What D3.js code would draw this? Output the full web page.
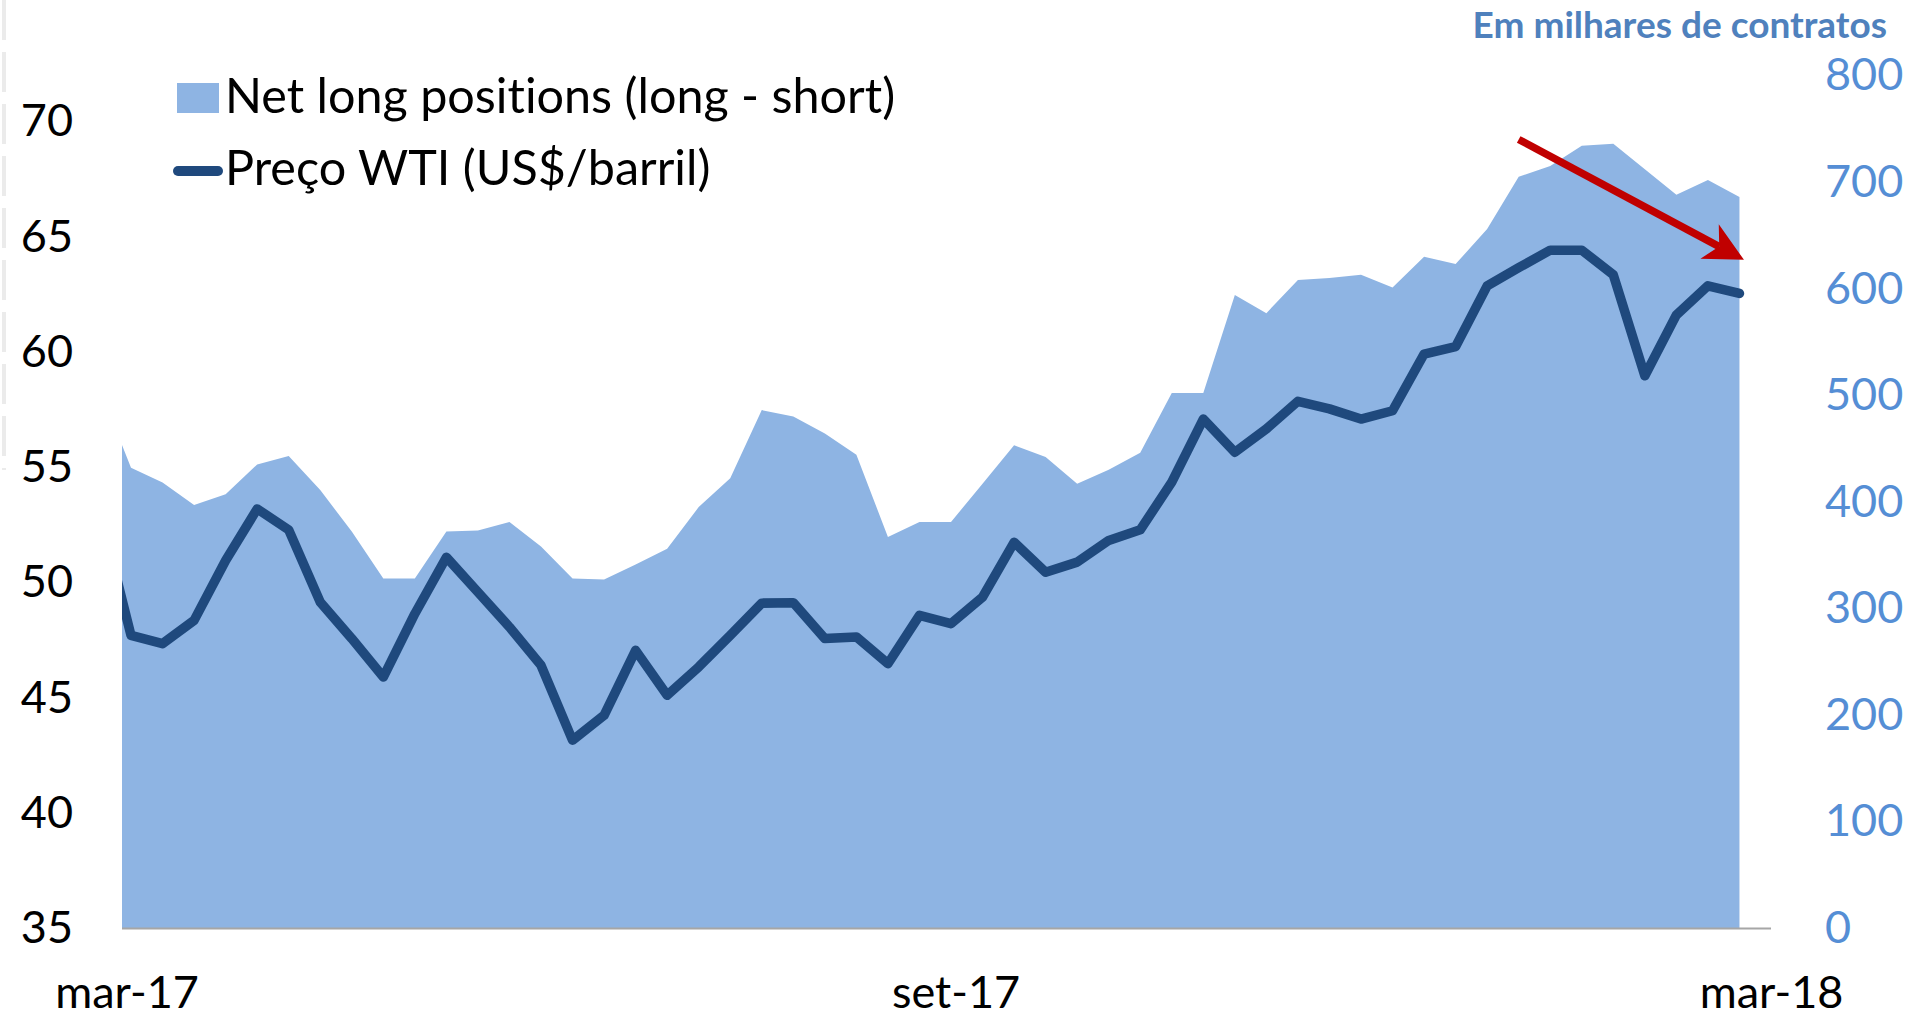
<!DOCTYPE html>
<html>
<head>
<meta charset="utf-8">
<script src="https://cdn.jsdelivr.net/npm/d3@7"></script>
<style>
	body { margin: 0; background: #fff; }
	svg { display: block; font-family: Lato, 'Open Sans', sans-serif; font-variant-ligatures: none; }
</style>
</head>
<body>
<div class="graphic"></div>
<script>
// weekly data, first week is only partly visible (cut by the axis min)
var firstWeek = '2017-03-07'
var netLong = [506,
	432, 418, 397, 407, 435, 443, 411, 372, 328, 328,
	372, 373, 381, 358, 328, 327, 341, 356, 395, 422,
	486, 480, 464, 444, 367, 381, 381, 417, 453, 442,
	417, 430, 446, 502, 502, 594, 577, 608, 610, 613,
	601, 630, 623, 656, 705, 715, 734, 736, 712, 688,
	702, 686]
var wtiPrice = [53.14,
	47.70, 47.34, 48.35, 50.95, 53.19, 52.28, 49.14, 47.56, 45.89, 48.64,
	51.09, 49.58, 48.06, 46.40, 43.15, 44.23, 47.05, 45.10, 46.33, 47.70,
	49.10, 49.12, 47.56, 47.63, 46.47, 48.57, 48.21, 49.36, 51.74, 50.44,
	50.88, 51.82, 52.28, 54.35, 57.09, 55.65, 56.66, 57.86, 57.53, 57.09,
	57.45, 59.91, 60.23, 62.87, 63.66, 64.42, 64.42, 63.35, 58.97, 61.61,
	62.87, 62.54]

var leftTicks = [35, 40, 45, 50, 55, 60, 65, 70]
var rightTicks = [0, 100, 200, 300, 400, 500, 600, 700, 800]
var xTickDates = ['2017-03-13', '2017-09-13', '2018-03-13']
var xTickLabels = ['mar-17', 'set-17', 'mar-18']
var xDomain = ['2017-03-12', '2018-03-13']
var leftDomain = [35, 72]
var rightDomain = [0, 800]
var arrowFrom = { date: '2018-01-16', value: 740 }
var arrowTo = { date: '2018-03-07', value: 627 }

var width = 1909
var height = 1018
var plot = { left: 122, right: 1771, top: 75.5, bottom: 928 }

var areaColor = '#8EB4E3'
var lineColor = '#1F497D'
var rightColor = '#558ED5'

var parseDate = d3.timeParse('%Y-%m-%d')
var start = parseDate(firstWeek)

var data = netLong.map(function(v, i) {
	return { date: d3.timeDay.offset(start, 7 * i), net: v, wti: wtiPrice[i] }
})

var svg = d3.select('.graphic').append('svg')
	.attr('width', width)
	.attr('height', height)

var x = d3.scaleTime()
	.domain(xDomain.map(parseDate))
	.range([plot.left, plot.right])
var yLeft = d3.scaleLinear().domain(leftDomain).range([plot.bottom, plot.top])
var yRight = d3.scaleLinear().domain(rightDomain).range([plot.bottom, plot.top])

// faint dashed border left over from the source sheet
svg.append('line')
	.attr('x1', 4).attr('x2', 4)
	.attr('y1', 0).attr('y2', 470)
	.attr('stroke', '#ebebeb')
	.attr('stroke-width', 4)
	.attr('stroke-dasharray', '40 12')

svg.append('clipPath').attr('id', 'plotClip')
	.append('rect')
	.attr('x', plot.left)
	.attr('y', 0)
	.attr('width', plot.right - plot.left)
	.attr('height', plot.bottom)

var chart = svg.append('g').attr('clip-path', 'url(#plotClip)')

var area = d3.area()
	.x(function(d) { return x(d.date) })
	.y0(yRight(0))
	.y1(function(d) { return yRight(d.net) })

chart.append('path')
	.datum(data)
	.attr('d', area)
	.attr('fill', areaColor)

var line = d3.line()
	.x(function(d) { return x(d.date) })
	.y(function(d) { return yLeft(d.wti) })

chart.append('path')
	.datum(data)
	.attr('d', line)
	.attr('fill', 'none')
	.attr('stroke', lineColor)
	.attr('stroke-width', 9.5)
	.attr('stroke-linejoin', 'round')
	.attr('stroke-linecap', 'round')

// horizontal axis line
svg.append('line')
	.attr('x1', plot.left).attr('x2', plot.right)
	.attr('y1', plot.bottom + 0.5).attr('y2', plot.bottom + 0.5)
	.attr('stroke', '#a6a6a6')
	.attr('stroke-width', 2)

// axes (d3 puts font-family="sans-serif" on the group, drop it so Lato is used)
var leftAxis = d3.axisLeft(yLeft).tickValues(leftTicks).tickSize(0).tickPadding(49)
var gl = svg.append('g')
	.attr('transform', 'translate(' + plot.left + ',0)')
	.call(leftAxis)
	.attr('font-family', null)
	.attr('font-size', null)
gl.select('.domain').remove()
gl.selectAll('text')
	.attr('fill', '#000')
	.style('font-size', '45px')

var rightAxis = d3.axisRight(yRight).tickValues(rightTicks).tickSize(0).tickPadding(54)
var gr = svg.append('g')
	.attr('transform', 'translate(' + plot.right + ',0)')
	.call(rightAxis)
	.attr('font-family', null)
	.attr('font-size', null)
gr.select('.domain').remove()
gr.selectAll('text')
	.attr('fill', rightColor)
	.style('font-size', '45px')

var bottomAxis = d3.axisBottom(x)
	.tickValues(xTickDates.map(parseDate))
	.tickFormat(function(d, i) { return xTickLabels[i] })
	.tickSize(0)
var gb = svg.append('g')
	.attr('transform', 'translate(0,' + plot.bottom + ')')
	.call(bottomAxis)
	.attr('font-family', null)
	.attr('font-size', null)
gb.select('.domain').remove()
gb.selectAll('text')
	.attr('y', 80)
	.attr('dy', 0)
	.attr('fill', '#000')
	.style('font-size', '45px')

// unit title on the right axis
svg.append('text')
	.attr('x', 1887)
	.attr('y', 38)
	.attr('text-anchor', 'end')
	.attr('fill', '#4F81BD')
	.style('font-size', '37px')
	.style('font-weight', 'bold')
	.text('Em milhares de contratos')

// legend
var legend = svg.append('g')
legend.append('rect')
	.attr('x', 177).attr('y', 83)
	.attr('width', 42).attr('height', 30)
	.attr('fill', areaColor)
legend.append('text')
	.attr('x', 225).attr('y', 113)
	.style('font-size', '48.5px')
	.text('Net long positions (long - short)')
legend.append('line')
	.attr('x1', 178).attr('x2', 218)
	.attr('y1', 171).attr('y2', 171)
	.attr('stroke', lineColor)
	.attr('stroke-width', 10)
	.attr('stroke-linecap', 'round')
legend.append('text')
	.attr('x', 225).attr('y', 185)
	.style('font-size', '48.5px')
	.text('Preço WTI (US$/barril)')

// red arrow annotation, placed in data units
var p0 = [x(parseDate(arrowFrom.date)), yRight(arrowFrom.value)]
var p1 = [x(parseDate(arrowTo.date)), yRight(arrowTo.value)]
var dx = p1[0] - p0[0], dy = p1[1] - p0[1]
var len = Math.sqrt(dx * dx + dy * dy)
var ux = dx / len, uy = dy / len
var headLen = 39, headHalf = 19.5
var base = [p1[0] - headLen * ux, p1[1] - headLen * uy]
var notch = [p1[0] - headLen * 0.72 * ux, p1[1] - headLen * 0.72 * uy]

svg.append('line')
	.attr('x1', p0[0]).attr('y1', p0[1])
	.attr('x2', notch[0]).attr('y2', notch[1])
	.attr('stroke', '#C00000')
	.attr('stroke-width', 7.5)

svg.append('path')
	.attr('d', 'M' + p1[0] + ',' + p1[1] +
		'L' + (base[0] - headHalf * uy) + ',' + (base[1] + headHalf * ux) +
		'L' + notch[0] + ',' + notch[1] +
		'L' + (base[0] + headHalf * uy) + ',' + (base[1] - headHalf * ux) + 'Z')
	.attr('fill', '#C00000')
</script>
</body>
</html>
